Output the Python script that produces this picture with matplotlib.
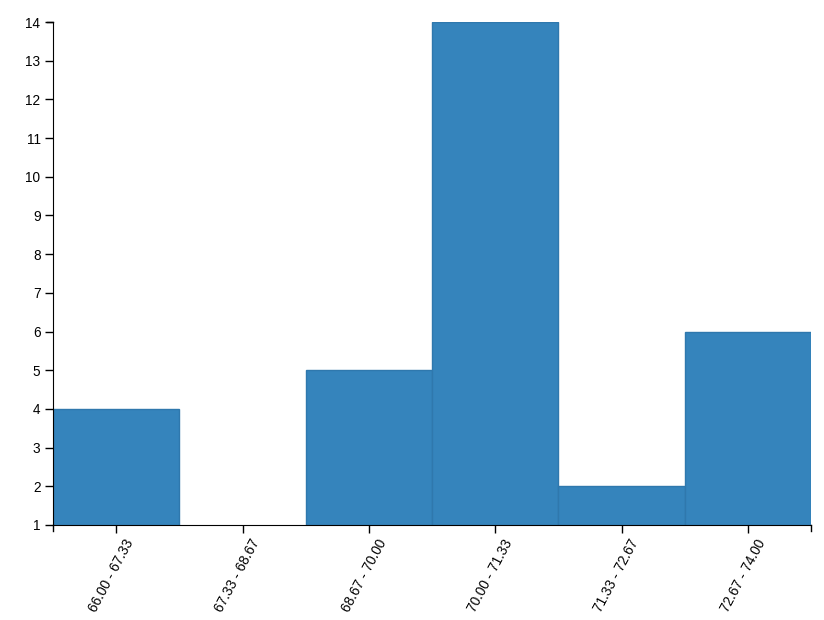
import matplotlib.pyplot as plt
import matplotlib.transforms as mtransforms
import numpy as np

plt.rcParams['font.family'] = ['Liberation Sans', 'DejaVu Sans']

edges = [66.00, 67.33, 68.67, 70.00, 71.33, 72.67, 74.00]
counts = [4, 0, 5, 14, 2, 6]
labels = ["66.00 - 67.33", "67.33 - 68.67", "68.67 - 70.00",
          "70.00 - 71.33", "71.33 - 72.67", "72.67 - 74.00"]
yticks = list(range(1, 15))

edges = np.array(edges)
widths = np.diff(edges)
centers = edges[:-1] + widths / 2

fig = plt.figure(figsize=(8.24, 6.2), dpi=100)
ax = fig.add_axes([53 / 824, 1 - 525 / 620, 758 / 824, 503 / 620])

ax.bar(edges[:-1], counts, width=widths, align='edge', color='#3584bc',
       edgecolor='#2f78ad', linewidth=1)

ax.set_xlim(edges[0], edges[-1])
ax.set_ylim(1, 14)
ax.set_yticks(yticks)
ax.set_xticks(centers)
ax.set_xticklabels(labels, rotation=62, ha='right', va='top',
                   rotation_mode='anchor', fontsize=9.8)
ax.tick_params(axis='y', labelsize=9.8, length=6, width=1, pad=3)
ax.tick_params(axis='x', length=6, width=1, pad=4)
ax.tick_params(colors='black')

# nudge rotated labels so their end sits just right of the tick
shift = mtransforms.ScaledTranslation(0.08, 0.02, fig.dpi_scale_trans)
for lab in ax.get_xticklabels():
    lab.set_transform(lab.get_transform() + shift)

for s in ['top', 'right']:
    ax.spines[s].set_visible(False)
ax.spines['left'].set_color('black')
ax.spines['bottom'].set_color('black')

# outer ticks at the axis ends
tick_x = 6 / 503
tick_y = 6 / 758
ax.plot([1, 1], [0, -tick_x], transform=ax.transAxes, color='black', lw=1, clip_on=False)
ax.plot([0, 0], [0, -tick_x], transform=ax.transAxes, color='black', lw=1, clip_on=False)
ax.plot([0, -tick_y], [1, 1], transform=ax.transAxes, color='black', lw=1, clip_on=False)

fig.savefig('out.png', dpi=100)
